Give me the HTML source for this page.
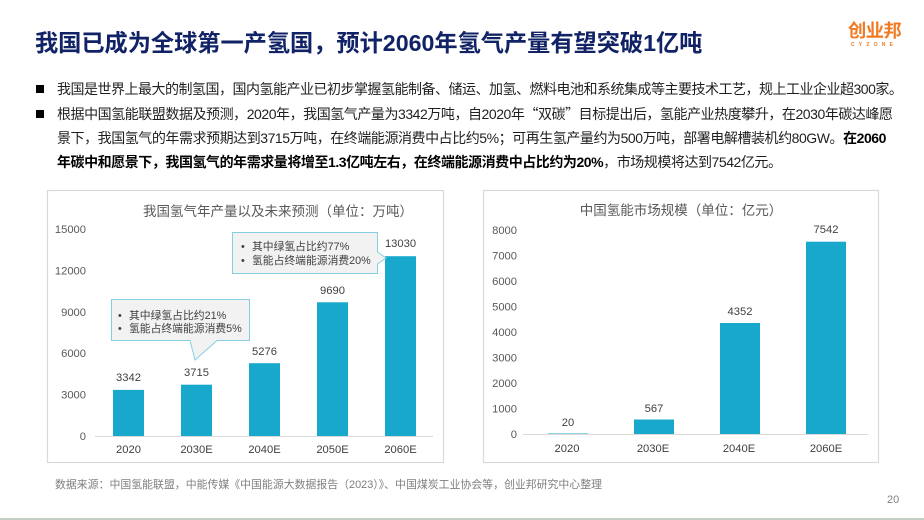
<!DOCTYPE html>
<html><head><meta charset="utf-8">
<style>
html,body{margin:0;padding:0;}
body{width:924px;height:520px;background:#fff;position:relative;overflow:hidden;font-family:"Liberation Sans","Noto Sans CJK SC",sans-serif;}
.abs{position:absolute;white-space:nowrap;}
.title{left:35px;top:29px;font-size:23.2px;font-weight:bold;color:#112366;line-height:28px;}
.ln{left:57px;font-size:14px;line-height:20px;color:#1f1f1f;letter-spacing:-0.45px;}
.sq{position:absolute;left:36px;width:8px;height:8px;background:#000;}
.q{font-family:"Noto Sans CJK SC",sans-serif;}
b{font-weight:bold;color:#000;}
</style></head>
<body>
<div class="abs title">我国已成为全球第一产氢国，预计2060年氢气产量有望突破1亿吨</div>

<div class="abs" style="left:848px;top:20px;font-size:18.3px;font-weight:bold;color:#f07a22;line-height:22px;letter-spacing:-0.5px;">创业邦</div>
<div class="abs" style="left:851px;top:42px;font-size:5px;font-weight:bold;color:#f07a22;line-height:6px;letter-spacing:4.2px;">CYZONE</div>

<div class="sq" style="top:85px;"></div>
<div class="sq" style="top:110px;"></div>
<div class="abs ln" style="top:79px;letter-spacing:-0.5px;">我国是世界上最大的制氢国，国内氢能产业已初步掌握氢能制备、储运、加氢、燃料电池和系统集成等主要技术工艺，规上工业企业超300家。</div>
<div class="abs ln" style="top:104px;">根据中国氢能联盟数据及预测，2020年，我国氢气产量为3342万吨，自2020年<span class="q">“</span>双碳<span class="q">”</span>目标提出后，氢能产业热度攀升，在2030年碳达峰愿</div>
<div class="abs ln" style="top:128px;">景下，我国氢气的年需求预期达到3715万吨，在终端能源消费中占比约5%；可再生氢产量约为500万吨，部署电解槽装机约80GW。<b>在2060</b></div>
<div class="abs ln" style="top:152px;"><b>年碳中和愿景下，我国氢气的年需求量将增至1.3亿吨左右，在终端能源消费中占比约为20%</b>，市场规模将达到7542亿元。</div>

<svg width="924" height="520" style="position:absolute;left:0;top:0;" xmlns="http://www.w3.org/2000/svg" font-family="Liberation Sans, Noto Sans CJK SC, sans-serif">
  <!-- Chart 1 -->
  <rect x="47.5" y="190.5" width="396" height="272" fill="#fff" stroke="#d9d9d9" stroke-width="1.2"/>
  <text x="278" y="216" text-anchor="middle" font-size="13.5" fill="#595959">我国氢气年产量以及未来预测（单位：万吨）</text>
  <g font-size="11.2" fill="#595959" text-anchor="end">
    <text x="86" y="440">0</text>
    <text x="86" y="398.6">3000</text>
    <text x="86" y="357.2">6000</text>
    <text x="86" y="315.8">9000</text>
    <text x="86" y="274.4">12000</text>
    <text x="86" y="233">15000</text>
  </g>
  <line x1="95" y1="436.5" x2="433" y2="436.5" stroke="#d9d9d9" stroke-width="1"/>
  <g fill="#18a8cb">
    <rect x="113" y="389.9" width="31" height="46.1"/>
    <rect x="181" y="384.7" width="31" height="51.3"/>
    <rect x="249" y="363.2" width="31" height="72.8"/>
    <rect x="317" y="302.3" width="31" height="133.7"/>
    <rect x="385" y="256.2" width="31" height="179.8"/>
  </g>
  <g font-size="11.2" fill="#404040" text-anchor="middle">
    <text x="128.5" y="381">3342</text>
    <text x="196.5" y="376">3715</text>
    <text x="264.5" y="355">5276</text>
    <text x="332.5" y="294">9690</text>
    <text x="400.5" y="247">13030</text>
  </g>
  <g font-size="11.2" fill="#404040" text-anchor="middle">
    <text x="128.5" y="453">2020</text>
    <text x="196.5" y="453">2030E</text>
    <text x="264.5" y="453">2040E</text>
    <text x="332.5" y="453">2050E</text>
    <text x="400.5" y="453">2060E</text>
  </g>
  <!-- Callout 1 -->
  <path d="M111.5 299.5 H249.5 V340.5 H217 L195 360 L190 340.5 H111.5 Z" fill="#f2f2f2" stroke="#86cfe0" stroke-width="1"/>
  <g font-size="10.8" fill="#404040">
    <text x="118" y="319">•</text><text x="129" y="319">其中绿氢占比约21%</text>
    <text x="118" y="332">•</text><text x="129" y="332">氢能占终端能源消费5%</text>
  </g>
  <!-- Callout 2 -->
  <path d="M232.5 232.5 H377.5 V252 L386 258 L377.5 264 V273.5 H232.5 Z" fill="#f2f2f2" stroke="#86cfe0" stroke-width="1"/>
  <g font-size="10.8" fill="#404040">
    <text x="241" y="250">•</text><text x="252" y="250">其中绿氢占比约77%</text>
    <text x="241" y="264">•</text><text x="252" y="264">氢能占终端能源消费20%</text>
  </g>

  <!-- Chart 2 -->
  <rect x="483.5" y="190.5" width="395" height="272" fill="#fff" stroke="#d9d9d9" stroke-width="1.2"/>
  <text x="681" y="215" text-anchor="middle" font-size="13.5" fill="#595959">中国氢能市场规模（单位：亿元）</text>
  <g font-size="11.2" fill="#595959" text-anchor="end">
    <text x="517" y="438">0</text>
    <text x="517" y="412.5">1000</text>
    <text x="517" y="387">2000</text>
    <text x="517" y="361.5">3000</text>
    <text x="517" y="336">4000</text>
    <text x="517" y="310.5">5000</text>
    <text x="517" y="285">6000</text>
    <text x="517" y="259.5">7000</text>
    <text x="517" y="234">8000</text>
  </g>
  <line x1="523" y1="434.5" x2="868" y2="434.5" stroke="#d9d9d9" stroke-width="1"/>
  <g fill="#18a8cb">
    <rect x="548" y="433.5" width="40" height="0.5"/>
    <rect x="634" y="419.5" width="40" height="14.5"/>
    <rect x="720" y="323" width="40" height="111"/>
    <rect x="806" y="241.7" width="40" height="192.3"/>
  </g>
  <g font-size="11.2" fill="#404040" text-anchor="middle">
    <text x="568" y="426">20</text>
    <text x="654" y="412">567</text>
    <text x="740" y="315">4352</text>
    <text x="826" y="233">7542</text>
  </g>
  <g font-size="11.2" fill="#404040" text-anchor="middle">
    <text x="567" y="452">2020</text>
    <text x="653" y="452">2030E</text>
    <text x="739" y="452">2040E</text>
    <text x="826" y="452">2060E</text>
  </g>
</svg>

<div class="abs" style="left:55px;top:478px;font-size:10.9px;line-height:14px;color:#7f7f7f;">数据来源：中国氢能联盟，中能传媒《中国能源大数据报告（2023）》、中国煤炭工业协会等，创业邦研究中心整理</div>
<div class="abs" style="left:887px;top:493px;font-size:11px;line-height:14px;color:#7f7f7f;">20</div>
<div style="position:absolute;left:0;top:518px;width:924px;height:2px;background:#c3cdc3;"></div>
</body></html>
